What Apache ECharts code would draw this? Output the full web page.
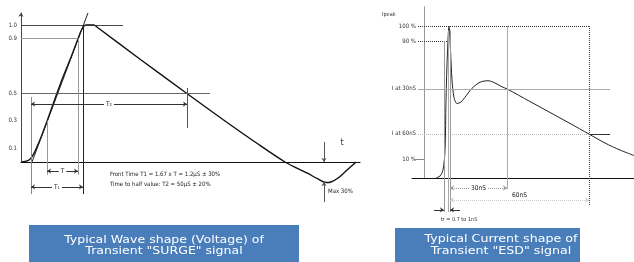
<!DOCTYPE html>
<html>
<head>
<meta charset="utf-8">
<script src="https://cdn.jsdelivr.net/npm/echarts@6/dist/echarts.min.js"></script>
<style>html,body{margin:0;padding:0;background:#fff}#c{width:634px;height:262px}</style>
</head>
<body>
<div id="c"></div>
<script>
// surge (left) waveform: time in arbitrary units, value relative to peak
const surgeT = [0, 1.3, 2.7, 4, 5.3, 6.7, 7.7, 8.7, 11.3, 14, 16.7, 19, 20, 21, 22, 24.3, 25.3, 39.7, 55.3, 67.3, 78, 88, 95.3, 99, 101.7, 103.3, 105.7, 108.7, 111.7];
const surgeV = [0, 0.004, 0.015, 0.051, 0.109, 0.182, 0.241, 0.3, 0.46, 0.62, 0.766, 0.9, 0.956, 0.993, 1, 1, 0.985, 0.75, 0.5, 0.31, 0.146, 0, -0.08, -0.124, -0.15, -0.146, -0.117, -0.058, 0];
const surgeTicks = [0.1, 0.3, 0.5, 0.9, 1.0];

// ESD (right) waveform: time in arbitrary units, current in % of Ipeak
const esdT = [6, 8, 9.5, 10.5, 11, 11.75, 12.5, 13.25, 14, 15, 16.5, 18.5, 21, 24, 28, 32, 35.5, 39, 41.5, 53, 63, 73, 82.5, 90.5, 98, 105];
const esdI = [0, 1.3, 5.3, 18, 51, 84, 100, 84, 64.5, 53, 49, 50, 54, 59, 63, 64, 62.5, 60, 58.6, 50.3, 43.1, 35.9, 28.9, 23, 18.4, 14.8];
const esdTicks = [100, 90, 58.6, 29, 12.5];
const esdTickNames = {100: '100 %', 90: '90 %', 58.6: 'I at 30nS', 29: 'I at 60nS', 12.5: '10 %'};

const narrow = "'Liberation Sans Narrow','Arial Narrow','DejaVu Sans Condensed',sans-serif";
const blue = '#4a7ebb';

function seg(x1, y1, x2, y2, color, opts) {
  opts = opts || {};
  return [
    {coord: [x1, y1], symbol: opts.s1 || 'none', symbolSize: opts.size || 5,
     lineStyle: {color: color, width: opts.w || 1, type: opts.type || 'solid'},
     label: opts.label ? Object.assign({show: true, position: 'middle', fontSize: 6.5, fontFamily: narrow, color: '#222',
        verticalAlign: 'middle', distance: 0, backgroundColor: '#fff', padding: [0, 2]}, opts.label) : {show: false}},
    {coord: [x2, y2], symbol: opts.s2 || 'none', symbolSize: opts.size || 5}
  ];
}

const chart = echarts.init(document.getElementById('c'), null, {renderer: 'canvas'});
const option = {
  animation: false,
  grid: [
    {left: 21, top: 11.3, width: 339, height: 205.5},
    {left: 412, top: 4.72, width: 222, height: 218.88}
  ],
  xAxis: [
    {gridIndex: 0, type: 'value', min: 0, max: 113, splitLine: {show: false}, axisTick: {show: false}, axisLabel: {show: false},
     axisLine: {show: true, onZero: true, lineStyle: {color: '#111', width: 1.2}}},
    {gridIndex: 1, type: 'value', min: -6, max: 105, splitLine: {show: false}, axisTick: {show: false}, axisLabel: {show: false},
     axisLine: {show: true, onZero: true, lineStyle: {color: '#111', width: 1}}}
  ],
  yAxis: [
    {gridIndex: 0, type: 'value', min: -0.4, max: 1.1, splitLine: {show: false},
     axisLine: {show: false, onZero: false}, axisTick: {show: false},
     axisLabel: {customValues: surgeTicks, margin: 4, fontSize: 6, fontFamily: narrow, color: '#333',
       formatter: v => v.toFixed(1)}},
    {gridIndex: 1, type: 'value', min: -30, max: 114, splitLine: {show: false}, offset: -6,
     axisLine: {show: false, onZero: false}, axisTick: {show: false},
     axisLabel: {customValues: esdTicks, margin: 2, fontSize: 6, fontFamily: narrow, color: '#333',
       formatter: v => esdTickNames[v] || ''}}
  ],
  series: [
    {
      type: 'line', xAxisIndex: 0, yAxisIndex: 0, symbol: 'none', smooth: 0.3,
      data: surgeT.map((t, i) => [t, surgeV[i]]),
      lineStyle: {color: '#111', width: 1.4},
      markLine: {
        silent: true, symbol: ['none', 'none'],
        data: [
          seg(0, 0, 0, 1.09, '#444', {s2: 'arrow', size: 4}),
          seg(0, 1, 34, 1, '#333', {w: 0.9}),
          seg(0, 0.9, 19, 0.9, '#999'),
          seg(0, 0.5, 63, 0.5, '#555', {w: 0.9}),
          seg(3.67, 0, 22.33, 1.088, '#222'),
          seg(3.33, 0.474, 3.33, -0.234, '#888'),
          seg(8.67, 0.3, 8.67, -0.095, '#999'),
          seg(19, 0.9, 19, -0.095, '#999'),
          seg(20.67, 1, 20.67, -0.234, '#222'),
          seg(55.33, 0.54, 55.33, 0.248, '#555'),
          seg(3.33, 0.423, 55.33, 0.423, '#333', {s1: 'arrow', s2: 'arrow', size: 4, label: {formatter: 'T₂'}}),
          seg(8.67, -0.066, 19, -0.066, '#333', {s1: 'arrow', s2: 'arrow', size: 4, label: {formatter: 'T'}}),
          seg(3.33, -0.182, 20.67, -0.182, '#333', {s1: 'arrow', s2: 'arrow', size: 4, label: {formatter: 'T₁'}}),
          seg(101, 0.146, 101, 0, '#555', {s2: 'arrow', size: 4}),
          seg(101, -0.292, 101, -0.146, '#555', {s2: 'arrow', size: 4})
        ]
      }
    },
    {
      type: 'line', xAxisIndex: 1, yAxisIndex: 1, symbol: 'none', smooth: 0.3,
      data: esdT.map((t, i) => [t, esdI[i]]),
      lineStyle: {color: '#222', width: 1},
      markLine: {
        silent: true, symbol: ['none', 'none'],
        data: [
          seg(0, 0, 0, 113, '#999'),
          seg(-3, 100, 83, 100, '#333', {type: 'dotted'}),
          seg(-3, 90, 14, 90, '#333', {type: 'dotted'}),
          seg(-3, 58.6, 93, 58.6, '#aaa'),
          seg(-3, 29, 82.5, 29, '#bbb', {type: 'dotted'}),
          seg(82.5, 29, 93, 29, '#333'),
          seg(-5, 12.5, 0, 12.5, '#888'),
          seg(41.5, 100, 41.5, -7.2, '#aaa'),
          seg(82.5, 100, 82.5, -18, '#444', {type: 'dotted'}),
          seg(10, 90, 10, -22.4, '#999'),
          seg(12, 97, 12, -22.4, '#aaa'),
          seg(13, 97, 13, -22.4, '#999'),
          seg(13, -6.6, 41.5, -6.6, '#999', {type: 'dotted', s1: 'arrow', s2: 'arrow', size: 4, label: {formatter: '30nS'}}),
          seg(13, -14.5, 82.5, -14.5, '#ccc', {type: 'dotted', s1: 'arrow', s2: 'arrow', size: 4,
            label: {formatter: '60nS', backgroundColor: 'transparent', verticalAlign: 'bottom', distance: 1}}),
          seg(5, -21, 10, -21, '#333', {s2: 'arrow', size: 4}),
          seg(18, -21, 13, -21, '#333', {s2: 'arrow', size: 4})
        ]
      }
    }
  ],
  graphic: [
    {type: 'text', style: {text: 't', x: 342, y: 143, fill: '#333', font: '9px ' + narrow, textAlign: 'center', align: 'center', textVerticalAlign: 'middle', verticalAlign: 'middle'}},
    {type: 'text', style: {text: 'Front Time T1 = 1.67 x T = 1.2µS ± 30%', x: 110, y: 174, fill: '#222', font: '6px ' + narrow, textVerticalAlign: 'middle', verticalAlign: 'middle'}},
    {type: 'text', style: {text: 'Time to half value: T2 = 50µS ± 20%', x: 110, y: 184, fill: '#222', font: '6px ' + narrow, textVerticalAlign: 'middle', verticalAlign: 'middle'}},
    {type: 'text', style: {text: 'Max 30%', x: 328, y: 191, fill: '#222', font: '6px ' + narrow, textVerticalAlign: 'middle', verticalAlign: 'middle'}},
    {type: 'text', style: {text: 'Ipeak', x: 382, y: 15, fill: '#333', font: '5.5px ' + narrow, textVerticalAlign: 'middle', verticalAlign: 'middle'}},
    {type: 'text', style: {text: 'tr = 0.7 to 1nS', x: 459, y: 220, fill: '#333', font: '5.5px ' + narrow, textAlign: 'center', align: 'center', textVerticalAlign: 'middle', verticalAlign: 'middle'}},
    {type: 'rect', shape: {x: 29, y: 225, width: 270, height: 37}, style: {fill: blue}},
    {type: 'text', x: 164, y: 245.5, scaleX: 1.14,
     style: {text: 'Typical Wave shape (Voltage) of\nTransient "SURGE" signal', x: 0, y: 0, fill: '#fff', font: '11px "DejaVu Sans"', lineHeight: 11.5, textAlign: 'center', align: 'center', textVerticalAlign: 'middle', verticalAlign: 'middle'}},
    {type: 'rect', shape: {x: 395, y: 228, width: 185, height: 34}, style: {fill: blue}},
    {type: 'text', x: 501, y: 245, scaleX: 1.15,
     style: {text: 'Typical Current shape of\nTransient "ESD" signal', x: 0, y: 0, fill: '#fff', font: '11px "DejaVu Sans"', lineHeight: 12, textAlign: 'center', align: 'center', textVerticalAlign: 'middle', verticalAlign: 'middle'}}
  ]
};
chart.setOption(option);
</script>
</body>
</html>
